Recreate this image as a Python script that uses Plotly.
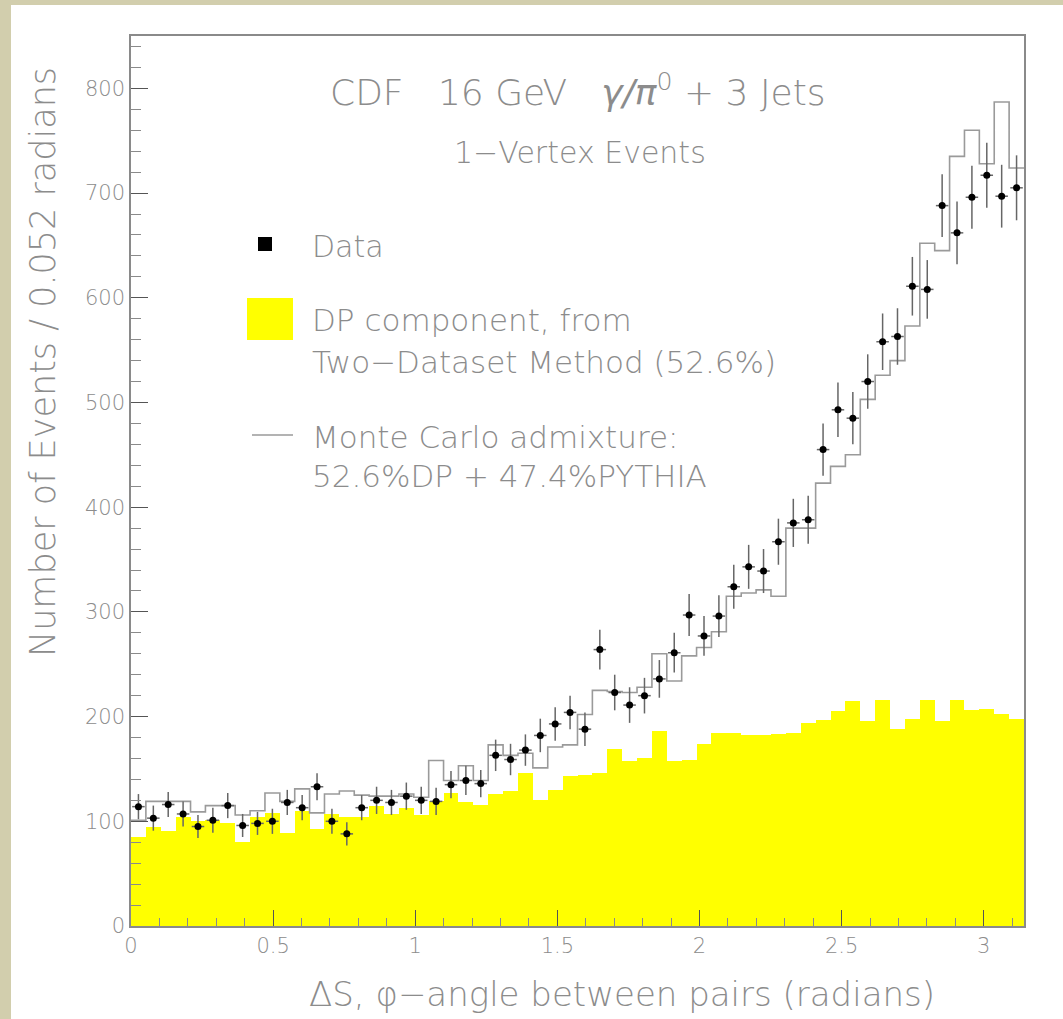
import numpy as np
import plotly.graph_objects as go

# ---- histogram contents (60 bins over 0..pi, 0.052 rad each) ----
data_counts = [114, 103, 116, 107, 95, 101, 115, 96, 98, 100,
               118, 113, 133, 100, 88, 113, 120, 118, 124, 120,
               119, 135, 139, 136, 163, 159, 168, 182, 193, 204,
               188, 264, 223, 211, 220, 236, 261, 297, 277, 296,
               324, 343, 339, 367, 385, 388, 455, 493, 485, 520,
               558, 563, 611, 608, 688, 662, 696, 717, 697, 705]

data_errors = [12, 12, 12, 12, 11, 12, 12, 11, 11, 12,
               12, 12, 13, 12, 11, 12, 13, 12, 13, 13,
               13, 13, 14, 13, 15, 15, 15, 16, 16, 16,
               16, 19, 17, 17, 17, 18, 19, 20, 19, 20,
               21, 21, 21, 22, 23, 23, 25, 26, 25, 26,
               27, 27, 28, 28, 30, 30, 30, 31, 30, 31]

dp_component = [85, 95, 91, 104, 100, 101, 98, 80, 104, 108,
                89, 110, 93, 107, 104, 104, 115, 107, 113, 106,
                119, 127, 118, 116, 126, 129, 146, 120, 130, 143,
                144, 146, 169, 158, 160, 186, 158, 159, 174, 184,
                184, 182, 182, 183, 184, 194, 197, 205, 215, 196,
                216, 188, 198, 216, 196, 216, 206, 207, 202, 198]

mc_admixture = [101, 119, 119, 119, 109, 115, 115, 106, 110, 127,
                119, 131, 108, 126, 129, 125, 124, 124, 126, 123,
                158, 139, 153, 139, 173, 163, 165, 151, 171, 173,
                202, 225, 224, 223, 228, 260, 234, 258, 266, 281,
                315, 318, 321, 315, 380, 380, 423, 439, 450, 503,
                526, 540, 573, 652, 645, 735, 760, 728, 787, 724]

x_tick_vals = [0, 0.5, 1, 1.5, 2, 2.5, 3]
x_tick_text = ["0", "0.5", "1", "1.5", "2", "2.5", "3"]
y_tick_vals = [0, 100, 200, 300, 400, 500, 600, 700, 800]

n_bins = len(data_counts)
edges = np.linspace(0, np.pi, n_bins + 1)
centers = 0.5 * (edges[:-1] + edges[1:])
bin_w = edges[1] - edges[0]

# ---- page geometry (pixels) ----
W_PAGE, H_PAGE = 1063, 1019
M_L, M_R, M_T, M_B = 131, 39, 36, 93
PW = W_PAGE - M_L - M_R
PH = H_PAGE - M_T - M_B


def fx(x):
    return (x - M_L) / PW


def fy(y):
    return (M_T + PH - y) / PH


TXT = "#8c8c8c"
FONT = "DejaVu Sans"
WEIGHT = 200

fig = go.Figure()

# DP component (filled yellow histogram)
fig.add_trace(go.Bar(
    x=centers, y=dp_component, width=bin_w,
    marker=dict(color="#ffff00", line=dict(width=0)),
    showlegend=False,
))

# Monte Carlo admixture (step outline)
fig.add_trace(go.Scatter(
    x=list(edges[:-1]) + [edges[-1]],
    y=mc_admixture + [mc_admixture[-1]],
    mode="lines", line=dict(shape="hv", color="#9a9a9a", width=1.6),
    showlegend=False,
))

# Data points with errors
fig.add_trace(go.Scatter(
    x=centers, y=data_counts, mode="markers",
    marker=dict(color="black", size=7),
    error_y=dict(type="data", array=data_errors, color="#666666",
                 thickness=1.5, width=0),
    error_x=dict(type="constant", value=bin_w * 0.42, color="#666666",
                 thickness=1.5, width=0),
    showlegend=False,
))

shapes = [
    # textured-paper edges
    dict(type="rect", xref="paper", yref="paper", x0=fx(0), x1=fx(11),
         y0=fy(H_PAGE), y1=fy(0), fillcolor="#d2cead", line=dict(width=0),
         layer="below"),
    dict(type="rect", xref="paper", yref="paper", x0=fx(0), x1=fx(W_PAGE),
         y0=fy(5), y1=fy(0), fillcolor="#d2cead", line=dict(width=0),
         layer="below"),
    # legend keys
    dict(type="rect", xref="paper", yref="paper", x0=fx(258), x1=fx(272),
         y0=fy(251), y1=fy(237), fillcolor="black", line=dict(width=0)),
    dict(type="rect", xref="paper", yref="paper", x0=fx(247), x1=fx(293),
         y0=fy(340), y1=fy(298), fillcolor="#ffff00", line=dict(width=0)),
    dict(type="line", xref="paper", yref="paper", x0=fx(252), x1=fx(293),
         y0=fy(435), y1=fy(435), line=dict(color="#9a9a9a", width=1.6)),
]


def label(text, x, y, size, anchor="left", angle=0):
    return dict(text=text, xref="paper", yref="paper", x=fx(x), y=fy(y),
                xanchor=anchor, yanchor="middle", showarrow=False,
                textangle=angle,
                font=dict(family=FONT, size=size, color=TXT, weight=WEIGHT))


annotations = [
    label("CDF   16 GeV   <i style='font-weight:200'>γ/π</i><sup>0</sup> + 3 Jets",
          578, 90, 36, "center"),
    label("1−Vertex Events", 580, 153, 30, "center"),
    label("Data", 310, 246, 30),
    label("DP component, from", 310, 320, 31),
    label("Two−Dataset Method (52.6%)", 310, 362, 31),
    label("Monte Carlo admixture:", 310, 437, 31),
    label("52.6%DP + 47.4%PYTHIA", 310, 476, 31),
    label("Number of Events / 0.052 radians", 43, 362, 35, "center", -90),
    label("ΔS, φ−angle between pairs (radians)", 622, 994, 34, "center"),
]

fig.update_layout(
    width=W_PAGE, height=H_PAGE,
    margin=dict(l=M_L, r=M_R, t=M_T, b=M_B, pad=0),
    paper_bgcolor="white", plot_bgcolor="white",
    bargap=0, shapes=shapes, annotations=annotations,
)

fig.update_xaxes(
    range=[0, np.pi], showgrid=False, zeroline=False,
    showline=True, linecolor="#8a8a8a", linewidth=1.5, mirror=True,
    ticks="inside", ticklen=16, tickwidth=1.3, tickcolor="#555555",
    tickvals=x_tick_vals, ticktext=x_tick_text,
    tickfont=dict(family=FONT, size=21, color=TXT, weight=WEIGHT),
    minor=dict(dtick=0.1, ticks="inside", ticklen=8, tickwidth=1.2,
               tickcolor="#8a8a8a", showgrid=False),
)
fig.update_yaxes(
    range=[0, 850], showgrid=False, zeroline=False,
    showline=True, linecolor="#8a8a8a", linewidth=1.5, mirror=True,
    ticks="inside", ticklen=17, tickwidth=1.3, tickcolor="#555555",
    tickvals=y_tick_vals,
    tickfont=dict(family=FONT, size=21, color=TXT, weight=WEIGHT),
    minor=dict(dtick=20, ticks="inside", ticklen=10, tickwidth=1.2,
               tickcolor="#8a8a8a", showgrid=False),
)

fig.write_html("out.html")
